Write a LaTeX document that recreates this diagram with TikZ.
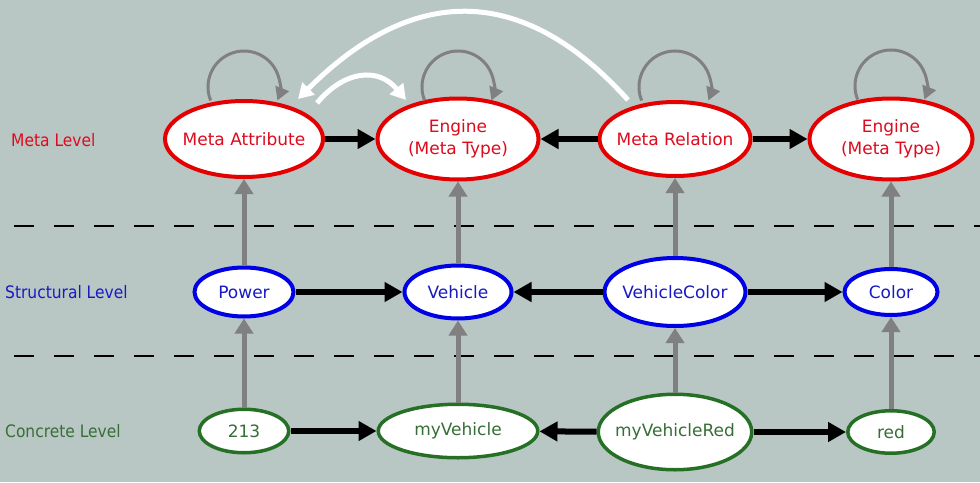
\documentclass[tikz,border=0pt]{standalone}
\usepackage{fontspec}
\setmainfont{DejaVu Sans}
\newfontfamily\lvlfont{DejaVu Sans}[FakeStretch=0.9]
\usetikzlibrary{arrows.meta,shapes.geometric}
\definecolor{bg}{RGB}{184,199,196}
\definecolor{mred}{RGB}{228,0,0}
\definecolor{mredt}{RGB}{222,10,30}
\definecolor{sblue}{RGB}{0,0,230}
\definecolor{sbluet}{RGB}{25,25,195}
\definecolor{cgreen}{RGB}{38,112,38}
\definecolor{cgreent}{RGB}{55,110,55}
\definecolor{agrey}{RGB}{128,128,128}
\newcommand{\zc}[1]{\makebox[0pt][c]{#1}}
\newcommand{\twol}[2]{\makebox[0pt][c]{\begin{tabular}{@{}c@{}}#1\\#2\end{tabular}}}
\begin{document}
\begin{tikzpicture}[x=1pt,y=1pt,
 base/.style={ellipse,fill=white,inner sep=0pt,font=\fontsize{17}{21.5}\selectfont},
 meta/.style={base,draw=mred,line width=4pt,text=mredt},
 struct/.style={base,draw=sblue,line width=4pt,text=sbluet},
 conc/.style={base,draw=cgreen,line width=3.5pt,text=cgreent},
 lvl/.style={anchor=west,inner sep=0pt,font=\lvlfont\fontsize{17.2}{20}\selectfont},
 rel/.style={line width=6pt,-{Triangle[length=18pt,width=19pt]}},
 inst/.style={line width=5pt,agrey,-{Triangle[length=15pt,width=18pt]}},
 selfl/.style={line width=3pt,agrey,-{Triangle[length=13pt,width=14pt]}},
 wht/.style={line width=5pt,white,-{Triangle[length=15pt,width=17pt]}},
 sep/.style={line width=1.7pt,dash pattern=on 20pt off 20pt}]
\fill[bg] (0,0) rectangle (980,-482);
\useasboundingbox (0,0) rectangle (980,-482);

% level separators
\coordinate (s1a) at (14,-226); \coordinate (s1b) at (980,-226);
\coordinate (s2a) at (14,-356); \coordinate (s2b) at (980,-356);
\draw[sep] (s1a) -- (s1b);
\draw[sep] (s2a) -- (s2b);

% level labels
\node[lvl,text=mredt] (lm) at (11,-140) {Meta Level};
\node[lvl,text=sbluet] (ls) at (5,-292) {Structural Level};
\node[lvl,text=cgreent] (lc) at (5,-431) {Concrete Level};

% meta level
\node[meta,minimum width=158pt,minimum height=76pt] (ma) at (244,-139) {\zc{Meta Attribute}};
\node[meta,minimum width=161pt,minimum height=81pt] (e1) at (458,-139) {\twol{Engine}{(Meta Type)}};
\node[meta,minimum width=151pt,minimum height=74pt] (mr) at (675,-139) {\zc{Meta Relation}};
\node[meta,minimum width=163pt,minimum height=81pt] (e2) at (891,-139) {\twol{Engine}{(Meta Type)}};

% structural level
\node[struct,minimum width=99pt,minimum height=49pt] (pow) at (244,-292) {\zc{Power}};
\node[struct,minimum width=107pt,minimum height=53pt] (veh) at (458,-292) {\zc{Vehicle}};
\node[struct,minimum width=141pt,minimum height=68pt] (vc) at (675,-292) {\zc{VehicleColor}};
\node[struct,minimum width=93pt,minimum height=46pt] (col) at (891,-292) {\zc{Color}};

% concrete level
\node[conc,minimum width=89.5pt,minimum height=43.5pt] (n213) at (244,-431) {\zc{213}};
\node[conc,minimum width=159.5pt,minimum height=53.5pt] (myv) at (458,-431) {\zc{myVehicle}};
\node[conc,minimum width=153.5pt,minimum height=75.5pt] (mvr) at (675,-432) {\zc{myVehicleRed}};
\node[conc,minimum width=86.5pt,minimum height=42.5pt] (red) at (891,-432) {\zc{red}};

% relations (black)
\draw[rel] (ma) -- (e1);
\draw[rel] (mr) -- (e1);
\draw[rel] (mr) -- (e2);
\draw[rel] (pow) -- (veh);
\draw[rel] (vc) -- (veh);
\draw[rel] (vc) -- (col);
\draw[rel] (n213) -- (myv);
\draw[rel] (mvr) -- (myv);
\draw[rel] (mvr) -- (red);

% instance-of (grey)
\draw[inst] (pow) -- (ma);
\draw[inst] (veh) -- (e1);
\draw[inst] (vc) -- (mr);
\draw[inst] (col) -- (e2);
\draw[inst] (n213) -- (pow);
\draw[inst] (myv) -- (veh);
\draw[inst] (mvr) -- (vc);
\draw[inst] (red) -- (col);

% self loops
\coordinate (lma) at ([yshift=52pt]ma.center);
\coordinate (le1) at ([yshift=52pt]e1.center);
\coordinate (lmr) at ([yshift=52pt]mr.center);
\coordinate (le2) at ([yshift=53pt]e2.center);
\foreach \c in {lma,le1,lmr,le2}{
  \draw[selfl] ([shift={(202:36pt)}]\c) arc[start angle=202,end angle=-22,radius=36pt];
}

% white arcs
\coordinate (wa1) at ([shift={(73pt,36pt)}]ma.center);
\coordinate (wa2) at ([shift={(-52pt,39pt)}]e1.center);
\draw[wht] (wa1) to[out=50,in=130,distance=43pt] (wa2);
\coordinate (wb1) at ([shift={(-47pt,39pt)}]mr.center);
\coordinate (wb2) at ([shift={(54pt,40pt)}]ma.center);
\draw[wht] (wb1) to[out=132,in=45,distance=160pt] (wb2);
\end{tikzpicture}
\end{document}
